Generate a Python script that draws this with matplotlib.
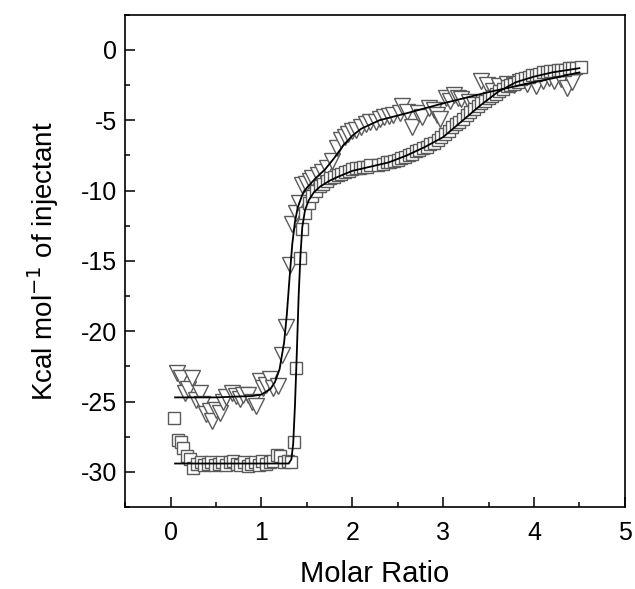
import numpy as np
import matplotlib
matplotlib.use('Agg')
import matplotlib.pyplot as plt
from matplotlib.ticker import MultipleLocator

# squares: molar ratio / kcal per mol of injectant
sq_x = [0.04, 0.08, 0.11, 0.14, 0.18, 0.21, 0.25, 0.29, 0.33, 0.37, 0.41, 0.45, 0.49,
        0.53, 0.57, 0.61, 0.65, 0.69, 0.73, 0.77, 0.81, 0.85, 0.89, 0.93, 0.97, 1.01,
        1.05, 1.09, 1.13, 1.17, 1.21, 1.25, 1.29, 1.33, 1.36, 1.38, 1.42, 1.45, 1.48,
        1.52, 1.56, 1.60, 1.64, 1.68, 1.72, 1.76, 1.80, 1.84, 1.88, 1.92, 1.96, 2.00,
        2.04, 2.08, 2.12, 2.16, 2.20, 2.28, 2.34, 2.38, 2.42, 2.46, 2.50, 2.54, 2.58,
        2.62, 2.66, 2.70, 2.74, 2.78, 2.82, 2.86, 2.90, 2.94, 2.98, 3.02, 3.06, 3.10,
        3.14, 3.18, 3.22, 3.26, 3.30, 3.34, 3.38, 3.42, 3.46, 3.50, 3.54, 3.58, 3.62,
        3.66, 3.70, 3.74, 3.78, 3.82, 3.86, 3.90, 3.94, 3.98, 4.02, 4.06, 4.10, 4.14,
        4.18, 4.22, 4.26, 4.30, 4.34, 4.38, 4.42, 4.46, 4.52]
sq_y = [-26.2, -27.7, -27.9, -28.3, -28.9, -29.1, -29.7, -29.4, -29.3, -29.5, -29.4, -29.3, -29.5,
        -29.4, -29.3, -29.5, -29.3, -29.2, -29.4, -29.5, -29.3, -29.6, -29.4, -29.3, -29.5, -29.2,
        -29.4, -29.3, -29.2, -28.8, -28.9, -29.3, -29.2, -29.3, -27.9, -22.6, -14.8, -12.7, -11.6,
        -10.9, -10.4, -10.0, -9.7, -9.5, -9.3, -9.1, -9.0, -8.9, -8.8, -8.7, -8.6, -8.5,
        -8.4, -8.4, -8.3, -8.3, -8.2, -8.2, -8.1, -8.0, -8.0, -7.9, -7.8, -7.7, -7.6,
        -7.5, -7.4, -7.2, -7.1, -7.0, -6.9, -6.7, -6.6, -6.4, -6.2, -6.0, -5.8, -5.5,
        -5.3, -5.1, -4.9, -4.6, -4.4, -4.2, -4.0, -3.8, -3.6, -3.4, -3.3, -3.1, -2.9,
        -2.8, -2.6, -2.5, -2.4, -2.3, -2.1, -2.0, -1.9, -1.8, -1.8, -1.7, -1.6, -1.6,
        -1.5, -1.5, -1.4, -1.4, -1.4, -1.3, -1.3, -1.3, -1.2]

# triangles
tri_x = [0.07, 0.12, 0.16, 0.19, 0.24, 0.28, 0.32, 0.35, 0.39, 0.43, 0.46, 0.50, 0.54,
         0.58, 0.61, 0.68, 0.72, 0.76, 0.80, 0.85, 0.90, 0.94, 0.98, 1.02, 1.05, 1.09,
         1.13, 1.18, 1.23, 1.27, 1.31, 1.34, 1.38, 1.41, 1.45, 1.49, 1.53, 1.56, 1.62,
         1.67, 1.72, 1.78, 1.83, 1.88, 1.92, 1.95, 2.00, 2.04, 2.10, 2.15, 2.20, 2.26,
         2.30, 2.35, 2.40, 2.45, 2.52, 2.55, 2.60, 2.66, 2.72, 2.77, 2.85, 2.90, 2.93,
         2.97, 3.03, 3.08, 3.12, 3.16, 3.20, 3.29, 3.34, 3.42, 3.48, 3.55, 3.62, 3.70,
         3.78, 3.85, 3.92, 4.02, 4.10, 4.16, 4.22, 4.30, 4.36, 4.42]
tri_y = [-23.0, -23.3, -24.4, -24.1, -23.3, -24.9, -24.4, -25.2, -25.9, -25.7, -26.4, -25.6, -25.8,
         -25.0, -24.7, -24.4, -24.6, -24.8, -24.5, -24.5, -25.0, -25.3, -23.5, -24.0, -23.8, -23.4,
         -24.0, -23.9, -21.7, -19.7, -15.3, -12.4, -11.6, -10.9, -9.6, -9.5, -9.3, -9.1, -8.9,
         -8.7, -8.4, -7.9, -7.0, -6.4, -6.2, -6.0, -5.8, -5.7, -5.5, -5.3, -5.1, -5.1,
         -4.9, -4.8, -4.7, -4.6, -4.5, -4.0, -4.4, -5.5, -4.5, -4.8, -4.1, -4.3, -4.6,
         -4.9, -3.4, -3.6, -3.2, -3.4, -3.5, -3.7, -3.9, -2.2, -2.5, -2.9, -2.6, -2.4,
         -2.5, -2.3, -2.4, -2.6, -2.2, -2.0, -2.2, -2.1, -2.7, -2.3]

# fit curves
fit_sq_x = [0.05, 0.5, 1.0, 1.30, 1.33, 1.35, 1.37, 1.39, 1.41, 1.43, 1.45, 1.48, 1.52, 1.58,
            1.65, 1.75, 1.85, 2.0, 2.2, 2.4, 2.6, 2.8, 3.0, 3.2, 3.4, 3.6, 3.8, 4.0, 4.2, 4.5]
fit_sq_y = [-29.4, -29.4, -29.4, -29.4, -29.1, -28.0, -25.2, -21.5, -17.5, -14.6, -12.6, -11.4,
            -10.7, -10.1, -9.7, -9.3, -9.0, -8.6, -8.3, -8.0, -7.5, -6.9, -6.2, -5.1, -4.0,
            -3.0, -2.3, -1.9, -1.6, -1.3]
fit_tri_x = [0.05, 0.5, 0.9, 1.0, 1.1, 1.15, 1.2, 1.25, 1.28, 1.31, 1.34, 1.37, 1.40, 1.45,
             1.5, 1.6, 1.7, 1.8, 1.9, 2.0, 2.1, 2.3, 2.6, 3.0, 3.5, 4.0, 4.5]
fit_tri_y = [-24.7, -24.7, -24.6, -24.5, -24.1, -23.6, -22.7, -20.8, -18.8, -16.2, -13.8, -12.2,
             -11.2, -10.3, -9.8, -9.1, -8.5, -7.7, -6.8, -6.1, -5.6, -5.0, -4.5, -3.8, -3.0,
             -2.3, -1.6]

plt.rcParams['font.family'] = ['Liberation Sans', 'DejaVu Sans']
plt.rcParams['axes.unicode_minus'] = False

fig = plt.figure(figsize=(6.35, 5.89), dpi=100)
ax = fig.add_axes([0.197, 0.139, 0.787, 0.836])

edge = '#5a5a5a'
ax.plot(tri_x, tri_y, 'v', ms=11, mfc='white', mec=edge, mew=1.0, ls='none')
ax.plot(sq_x, sq_y, 's', ms=8, mfc='white', mec=edge, mew=1.0, ls='none')
ax.plot(fit_tri_x, fit_tri_y, color='black', lw=1.3)
ax.plot(fit_sq_x, fit_sq_y, color='black', lw=1.3)

ax.set_xlim(-0.5, 5)
ax.set_ylim(-32.5, 2.5)
ax.xaxis.set_major_locator(MultipleLocator(1))
ax.xaxis.set_minor_locator(MultipleLocator(0.5))
ax.yaxis.set_major_locator(MultipleLocator(5))
ax.yaxis.set_minor_locator(MultipleLocator(2.5))
ax.tick_params(which='both', direction='in', top=False, right=False, width=1.1, labelsize=18)
ax.tick_params(which='major', length=7)
ax.tick_params(axis='x', which='major', pad=10)
ax.tick_params(axis='y', which='major', pad=6)
ax.tick_params(which='minor', length=3.5)
for s in ax.spines.values():
    s.set_linewidth(1.2)

ax.set_xlabel('Molar Ratio', fontsize=21, labelpad=11)
ax.set_ylabel('Kcal mol$^{-1}$ of injectant', fontsize=20, labelpad=14)

fig.savefig('out.png', dpi=100)
